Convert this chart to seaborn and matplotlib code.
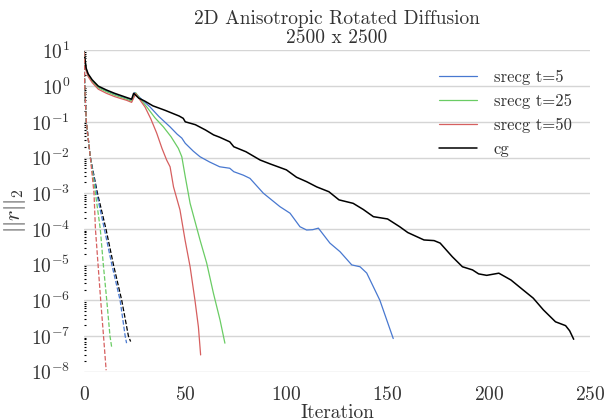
import matplotlib
matplotlib.use("Agg")
import matplotlib.pyplot as plt
import seaborn as sns
import numpy as np

# residual histories
cg_x = [0, 1, 2, 4, 7, 11, 15, 18, 21, 23.5, 24.5, 27, 30, 34, 40, 47, 49, 50, 55, 60,
        64, 67, 72, 74, 80, 87, 92, 97, 100, 105, 110, 115, 121, 126, 133, 138, 143, 150,
        156, 160, 168, 173, 176, 182, 187, 192, 195, 199, 205, 211, 217, 222, 227, 233,
        238, 240, 242]
cg_y = [9.0, 3.2, 2.2, 1.5, 1.0, 0.78, 0.63, 0.55, 0.48, 0.43, 0.63, 0.46, 0.38, 0.28,
        0.21, 0.145, 0.125, 0.10, 0.083, 0.059, 0.043, 0.037, 0.0275, 0.020, 0.0145,
        0.0085, 0.0066, 0.0052, 0.0045, 0.0028, 0.0021, 0.0015, 0.0011, 6.5e-4, 5.2e-4,
        3.5e-4, 2.2e-4, 1.9e-4, 1.15e-4, 7.9e-5, 4.9e-5, 4.7e-5, 4.0e-5, 1.66e-5, 8.7e-6,
        7.1e-6, 5.5e-6, 5.0e-6, 5.75e-6, 3.7e-6, 1.95e-6, 1.15e-6, 5.4e-7, 2.5e-7,
        1.95e-7, 1.4e-7, 8.1e-8]

t5_x = [0, 1, 2, 4, 7, 11, 15, 18, 21, 23.5, 25, 28, 32.6, 37, 42.5, 46, 48.3, 50, 54,
        57.3, 62, 67, 72, 74, 78.7, 82, 88.6, 96.8, 101.8, 106.7, 110, 113, 115.8, 121.5,
        126.5, 132.3, 136.4, 139.7, 146.2, 152.8]
t5_y = [9.0, 3.0, 2.1, 1.4, 0.95, 0.74, 0.6, 0.52, 0.46, 0.41, 0.66, 0.45, 0.26, 0.14,
        0.072, 0.045, 0.035, 0.025, 0.015, 0.0105, 0.0075, 0.0055, 0.005, 0.004, 0.0032,
        0.0026, 0.001, 4.2e-4, 2.75e-4, 1.15e-4, 9.3e-5, 9.5e-5, 1.05e-4, 4.0e-5, 2.3e-5,
        9.8e-6, 8.7e-6, 5.8e-6, 1.0e-6, 8.5e-8]

t25_x = [0, 1, 2, 4, 7, 11, 15, 18, 21, 23.5, 25.5, 28, 31, 35, 39.2, 43, 46.6, 48.3, 50,
         52.4, 57.3, 60.6, 63.9, 67.2, 69.6]
t25_y = [9.0, 2.9, 2.0, 1.35, 0.9, 0.7, 0.56, 0.49, 0.43, 0.38, 0.65, 0.42, 0.26, 0.13,
         0.072, 0.038, 0.018, 0.0105, 0.0029, 5.2e-4, 4.9e-5, 1.1e-5, 1.6e-6, 2.8e-7, 6.3e-8]

t50_x = [0, 1, 2, 4, 7, 11, 15, 18, 21, 23.5, 25.5, 28, 30.1, 33, 35.9, 38.5, 40.8, 42.5,
         44.2, 47.4, 49.9, 52.4, 54.8, 56.5, 57.6]
t50_y = [9.0, 2.7, 1.85, 1.25, 0.82, 0.63, 0.51, 0.45, 0.4, 0.35, 0.62, 0.38, 0.26, 0.12,
         0.048, 0.018, 0.0085, 0.0055, 0.0015, 3.4e-4, 4.9e-5, 8.7e-6, 1.0e-6, 1.8e-7, 2.95e-8]

# dashed (bound) curves
d50_x = [0, 0.3, 1.1, 3.1, 4.9, 5.6, 6.9, 8.2, 9.6, 10.9]
d50_y = [9.0, 1.0, 0.1, 0.01, 1e-3, 1e-4, 1e-5, 1e-6, 1e-7, 1.1e-8]
d25_x = [0, 0.3, 1.1, 3.1, 5.6, 8.0, 9.5, 11.2, 12.8, 13.6]
d25_y = [9.0, 1.0, 0.1, 0.01, 1e-3, 1e-4, 1e-5, 1e-6, 1e-7, 5e-8]
d5_x = [0, 0.3, 1.1, 3.1, 6.2, 10.0, 13.7, 17.8, 20.3, 21.0]
d5_y = [9.0, 1.0, 0.1, 0.01, 1e-3, 1e-4, 1e-5, 1e-6, 1e-7, 6.3e-8]
dcg_x = [0, 0.3, 1.1, 3.1, 6.6, 10.8, 14.5, 18.6, 21.9, 23.0]
dcg_y = [9.0, 1.0, 0.1, 0.01, 1e-3, 1e-4, 1e-5, 1e-6, 1e-7, 7e-8]

sns.set_theme(style="whitegrid")
plt.rcParams['font.family'] = ['cmr10', 'DejaVu Serif']
plt.rcParams['mathtext.fontset'] = 'cm'
plt.rcParams['axes.formatter.use_mathtext'] = True

blue, green, red = "#4878d0", "#6acc64", "#d65f5f"

fig = plt.figure(figsize=(6.05, 4.2), dpi=100)
ax = fig.add_axes([0.139, 0.115, 0.836, 0.765])

sns.lineplot(x=t5_x, y=t5_y, ax=ax, color=blue, lw=0.9, label="srecg t=5")
sns.lineplot(x=t25_x, y=t25_y, ax=ax, color=green, lw=0.9, label="srecg t=25")
sns.lineplot(x=t50_x, y=t50_y, ax=ax, color=red, lw=0.9, label="srecg t=50")
sns.lineplot(x=cg_x, y=cg_y, ax=ax, color="black", lw=1.1, label="cg")

sns.lineplot(x=dcg_x, y=dcg_y, ax=ax, color="black", lw=0.9, linestyle="--")
sns.lineplot(x=d5_x, y=d5_y, ax=ax, color=blue, lw=0.9, linestyle="--")
sns.lineplot(x=d25_x, y=d25_y, ax=ax, color=green, lw=0.9, linestyle="--")
sns.lineplot(x=d50_x, y=d50_y, ax=ax, color=red, lw=0.9, linestyle="--")

ax.set_yscale("log")
ax.set_xlim(0, 250)
ax.set_ylim(1e-8, 1e1)
ax.set_xticks([0, 50, 100, 150, 200, 250])
ax.yaxis.set_major_locator(matplotlib.ticker.LogLocator(base=10, numticks=15))
ax.yaxis.set_minor_locator(matplotlib.ticker.LogLocator(base=10, subs=np.arange(2, 10), numticks=15))
ax.grid(axis="x", visible=False)
ax.grid(axis="y", which="major", color="#d5d5d5", lw=1)
ax.tick_params(axis="both", which="major", labelsize=14, colors="#333333", pad=4)
ax.tick_params(axis="y", which="minor", left=True, length=1.5, width=0.8,
               direction="in", color="black")
for s in ax.spines.values():
    s.set_visible(False)

ax.set_title("2D Anisotropic Rotated Diffusion\n2500 x 2500", fontsize=14,
             color="#333333", pad=5, linespacing=1.1)
ax.set_xlabel("Iteration", fontsize=14, color="#333333", labelpad=0)
ax.set_ylabel(r"$||r||_2$", fontsize=16, color="#333333", labelpad=2)

leg = ax.legend(loc="upper right", bbox_to_anchor=(0.994, 0.988), frameon=False,
                fontsize=12, handlelength=2.3, labelspacing=0.52, handletextpad=1.0)
for t in leg.get_texts():
    t.set_color("#333333")

fig.savefig("out.png", dpi=100)
